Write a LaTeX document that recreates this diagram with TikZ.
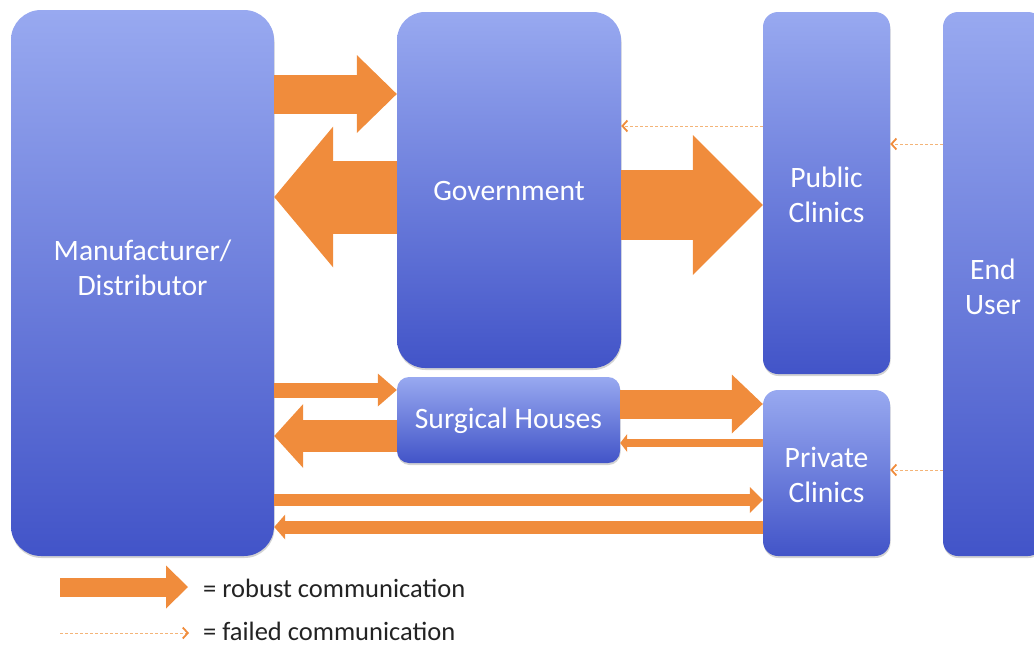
\documentclass[tikz,border=0pt]{standalone}
\usepackage{fontspec}
\setmainfont{Carlito}
\usetikzlibrary{arrows.meta,shadows}
\definecolor{boxtop}{RGB}{152,169,240}
\definecolor{boxbot}{RGB}{66,84,200}
\definecolor{orng}{RGB}{240,140,60}
\definecolor{orngl}{RGB}{244,180,120}
\definecolor{legtxt}{RGB}{35,35,35}
\begin{document}
\begin{tikzpicture}[x=1pt,y=-1pt,
  box/.style={rounded corners=#1, draw=none, top color=boxtop, bottom color=boxbot,
    inner sep=0pt, drop shadow={shadow xshift=0.5pt, shadow yshift=-2pt, opacity=0.35}},
  lbl/.style={text=white, align=center, font=\fontsize{29.6pt}{35pt}\selectfont},
  rob/.style n args={3}{draw=orng, line width=#1pt,
    -{Triangle[width=#2pt, length=#3pt, line width=0pt]}},
  failed/.style={draw=orngl, line width=1pt, dash pattern=on 3pt off 2pt,
    -{Straight Barb[length=5pt, width=11pt, line width=1.8pt, color=orng]}},
  legend/.style={text=legtxt, anchor=west, inner sep=0pt, font=\fontsize{26.5pt}{30pt}\selectfont}]
\useasboundingbox (0,0) rectangle (1034,645);

% boxes
\node[box=30pt, minimum width=263pt, minimum height=546pt] (mfr) at (142.5,283) {};
\node[box=28pt, minimum width=224pt, minimum height=356pt] (gov) at (509,190) {};
\node[box=15pt, minimum width=127pt, minimum height=362pt] (pub) at (826.5,193) {};
\node[box=15pt, minimum width=100pt, minimum height=544pt] (end) at (993,284) {};
\node[box=12pt, minimum width=223pt, minimum height=86pt] (surg) at (508.5,420) {};
\node[box=15pt, minimum width=127pt, minimum height=166pt] (priv) at (826.5,473) {};

% labels
\node[lbl] (mfrl) at (142.5,268) {Manufacturer/\\Distributor};
\node[lbl] (govl) at (509,191) {Government};
\node[lbl] (publ) at (826.5,195) {Public\\Clinics};
\node[lbl] (endl) at (993,287) {End\\User};
\node[lbl] (surgl) at (508.5,421) {Surgical Houses};
\node[lbl] (privl) at (826.5,475) {Private\\Clinics};

% robust communication
\draw[rob={39}{78}{40}]  (mfr.east |- 0,94)  -- (gov.west |- 0,94);
\draw[rob={73}{141}{59}] (gov.west |- 0,197) -- (mfr.east |- 0,197);
\draw[rob={70}{140}{70}] (gov.east |- 0,205) -- (pub.west |- 0,205);
\draw[rob={15}{33}{19}]  (mfr.east |- 0,390) -- (surg.west |- 0,390);
\draw[rob={32}{64}{29}]  (surg.west |- 0,436) -- (mfr.east |- 0,436);
\draw[rob={29}{59}{31}]  (surg.east |- 0,404) -- (priv.west |- 0,404);
\draw[rob={8}{18}{7}]    (priv.west |- 0,443) -- (surg.east |- 0,443);
\draw[rob={12}{26}{13}]  (mfr.east |- 0,500) -- (priv.west |- 0,500);
\draw[rob={13}{25}{11}]  (priv.west |- 0,527) -- (mfr.east |- 0,527);

% failed communication
\draw[failed] (pub.west |- 0,126) -- (gov.east |- 0,126);
\draw[failed] (end.west |- 0,144) -- (pub.east |- 0,144);
\draw[failed] (end.west |- 0,470) -- (priv.east |- 0,470);

% legend
\coordinate (l1a) at (60,587);
\coordinate (l1b) at (188,587);
\coordinate (l2a) at (60,633);
\coordinate (l2b) at (189,633);
\draw[rob={19}{43}{22}] (l1a) -- (l1b);
\draw[failed] (l2a) -- (l2b);
\node[legend] (leg1) at (203,588) {= robust communication};
\node[legend] (leg2) at (203,631) {= failed communication};
\end{tikzpicture}
\end{document}
